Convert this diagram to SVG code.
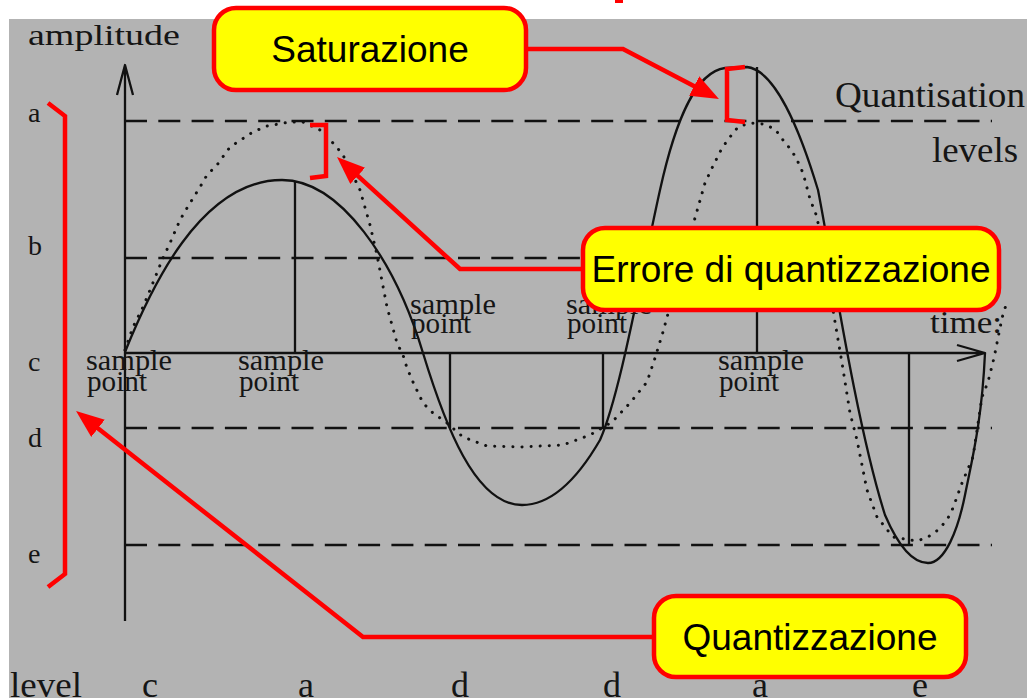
<svg xmlns="http://www.w3.org/2000/svg" width="1027" height="698" viewBox="0 0 1027 698">
<style>
.ln{fill:none;stroke:#111;stroke-width:2.3;stroke-linejoin:round}
.dash{fill:none;stroke:#111;stroke-width:2.5;stroke-dasharray:22 11.3}
.dot{fill:none;stroke:#111;stroke-width:3;stroke-linecap:round;stroke-linejoin:round;stroke-dasharray:0.1 9}
.sf{font-family:"Liberation Serif","Times New Roman",serif;fill:#151515}
.red{fill:none;stroke:#ff0000;stroke-width:4.5}
.box{fill:#ffff00;stroke:#ff0000;stroke-width:4.5}
.bt{font-family:"Liberation Sans",Arial,sans-serif;font-size:37px;fill:#000;text-anchor:middle}
</style>
<defs>
<marker id="ah" markerUnits="userSpaceOnUse" markerWidth="30" markerHeight="24" refX="18" refY="11" orient="auto">
<path d="M0,0 L28,11 L0,22 Z" fill="#ff0000"/>
</marker>
</defs>
<rect width="1027" height="698" fill="#ffffff"/>
<rect x="9" y="19" width="1018" height="679" fill="#b3b3b3"/>
<rect x="615" y="0" width="8" height="3" fill="#ff0000"/>
<g id="plot">
<path class="ln" d="M125,621 V65 M117,95 L125,65 L133,95"/>
<path class="ln" d="M125,353 H985 M957,345 L985,353 L957,361"/>
<path class="dash" d="M125,121 H992 M125,258 H992 M125,428 H992 M125,545 H992"/>
<path class="ln" d="M295,181 V353 M450,353 V428 M603,353 V428 M757,67 V353 M909,353 V545"/>
<path class="ln" d="M125,352 C150,290 200,180 282,180 C340,180 395,260 423,353 C445,425 475,505 522,505 C552,505 578,478 600,440 C620,395 640,280 660,190 C675,122 695,72 725,68 L747,67 C775,70 800,130 818,190 C830,250 855,420 885,515 C900,550 915,563 928,563 C945,563 958,530 965,495 C972,460 982,420 985,353"/>
<polyline class="dot" points="125,350 133,327 143,307 150,290 163,258 170,243 180,220 187,208 200,187 207,175 217,165 230,147 253,132 267,126 290,122 303,122 320,130 335,145 343,155 360,190 370,225 377,255 387,307 397,343 403,355 407,368 413,382 423,403 433,413 447,423 463,437 487,446 520,447 563,445 590,435 612,422 630,403 647,382 655,358 663,332 680,270 695,218 705,183 712,168 722,148 730,137 738,127 750,123 763,124 775,129 783,140 792,151 798,162 803,173 810,199 817,217 833,310 842,363 850,413 857,440 867,490 877,517 893,537 917,541 928,537 938,530 947,520 953,508 962,483 973,457 982,397 988,382 994,358 1002,318 1006,305"/>
<text class="sf" x="28" y="45" font-size="30" textLength="152" lengthAdjust="spacingAndGlyphs">amplitude</text>
<text class="sf" x="28" y="122" font-size="28">a</text>
<text class="sf" x="28" y="255" font-size="28">b</text>
<text class="sf" x="28" y="371" font-size="28">c</text>
<text class="sf" x="28" y="447" font-size="28">d</text>
<text class="sf" x="28" y="563" font-size="28">e</text>
<text class="sf" x="835" y="107" font-size="36" textLength="190" lengthAdjust="spacingAndGlyphs">Quantisation</text>
<text class="sf" x="932" y="162" font-size="36" textLength="86" lengthAdjust="spacingAndGlyphs">levels</text>
<text class="sf" x="930" y="333" font-size="32" textLength="72" lengthAdjust="spacingAndGlyphs">time:</text>
<g class="sf" font-size="29">
<text x="86" y="370" textLength="86" lengthAdjust="spacingAndGlyphs">sample</text>
<text x="87" y="391" textLength="60" lengthAdjust="spacingAndGlyphs">point</text>
<text x="238" y="370" textLength="86" lengthAdjust="spacingAndGlyphs">sample</text>
<text x="239" y="391" textLength="60" lengthAdjust="spacingAndGlyphs">point</text>
<text x="410" y="314" textLength="86" lengthAdjust="spacingAndGlyphs">sample</text>
<text x="411" y="333" textLength="60" lengthAdjust="spacingAndGlyphs">point</text>
<text x="566" y="314" textLength="86" lengthAdjust="spacingAndGlyphs">sample</text>
<text x="567" y="333" textLength="60" lengthAdjust="spacingAndGlyphs">point</text>
<text x="718" y="370" textLength="86" lengthAdjust="spacingAndGlyphs">sample</text>
<text x="719" y="391" textLength="60" lengthAdjust="spacingAndGlyphs">point</text>
</g>
<g class="sf" font-size="36">
<text x="10" y="697" textLength="72" lengthAdjust="spacingAndGlyphs">level</text>
<text x="150" y="697" text-anchor="middle">c</text>
<text x="306" y="697" text-anchor="middle">a</text>
<text x="460" y="697" text-anchor="middle">d</text>
<text x="612" y="697" text-anchor="middle">d</text>
<text x="760" y="697" text-anchor="middle">a</text>
<text x="920" y="697" text-anchor="middle">e</text>
</g>
</g>
<g id="brackets">
<path class="red" d="M48,103 L65,116 L65,574 L48,587"/>
<path class="red" d="M310,125 L326,125 L326,176 L310,178"/>
<path class="red" d="M745,67 L727,69 L727,120 L745,122"/>
</g>
<g id="connectors">
<path class="red" d="M528,49 L623,49 L710.1,94.4" marker-end="url(#ah)"/>
<path class="red" d="M581,269 L460,269 L344.4,163.7" marker-end="url(#ah)"/>
<path class="red" d="M652,637 L363,637 L83.9,417.2" marker-end="url(#ah)"/>
</g>
<g id="saturazione">
<rect class="box" x="214" y="8" width="312" height="82" rx="22"/>
<text class="bt" x="370" y="62">Saturazione</text>
</g>
<g id="errore">
<rect class="box" x="583" y="228" width="416" height="82" rx="22"/>
<text class="bt" x="791" y="282">Errore di quantizzazione</text>
</g>
<g id="quantizzazione">
<rect class="box" x="654" y="596" width="312" height="81" rx="22"/>
<text class="bt" x="810" y="650">Quantizzazione</text>
</g>
</svg>
